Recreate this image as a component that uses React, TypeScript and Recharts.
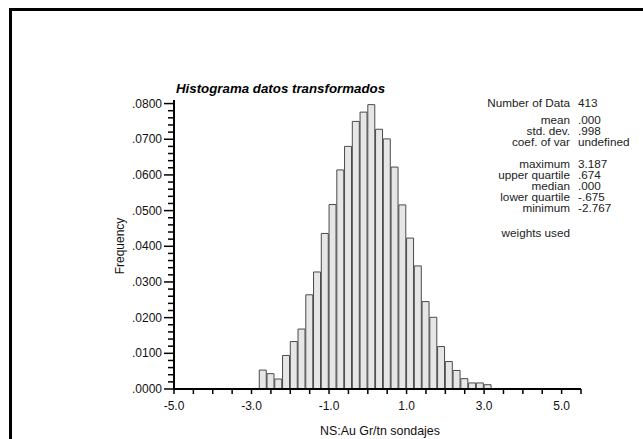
import React from 'react';
import { BarChart, Bar, XAxis, YAxis } from 'recharts';

// lower edge of each 0.2 wide bin
const binStarts = [
  -2.8, -2.6, -2.4, -2.2, -2.0, -1.8, -1.6, -1.4, -1.2, -1.0,
  -0.8, -0.6, -0.4, -0.2, 0.0, 0.2, 0.4, 0.6, 0.8, 1.0,
  1.2, 1.4, 1.6, 1.8, 2.0, 2.2, 2.4, 2.6, 2.8, 3.0,
];
const frequency = [
  0.0053, 0.0043, 0.0028, 0.0094, 0.0133, 0.0168, 0.0264, 0.0328, 0.0436, 0.0517,
  0.0614, 0.068, 0.075, 0.0776, 0.0797, 0.0728, 0.0701, 0.0622, 0.0516, 0.0423,
  0.0345, 0.0245, 0.0201, 0.0119, 0.0077, 0.0052, 0.0029, 0.0017, 0.0017, 0.0012,
];
const BIN_WIDTH = 0.2;

const xTicks = [
  -5.0, -4.5, -4.0, -3.5, -3.0, -2.5, -2.0, -1.5, -1.0, -0.5, 0.0,
  0.5, 1.0, 1.5, 2.0, 2.5, 3.0, 3.5, 4.0, 4.5, 5.0, 5.5,
];
const xLabeled = [-5.0, -3.0, -1.0, 1.0, 3.0, 5.0];
const yMajor = [0, 0.01, 0.02, 0.03, 0.04, 0.05, 0.06, 0.07, 0.08];

const statNames = [
  'Number of Data', 'mean', 'std. dev.', 'coef. of var',
  'maximum', 'upper quartile', 'median', 'lower quartile', 'minimum',
  'weights used',
];
const statValues = [
  '413', '.000', '.998', 'undefined',
  '3.187', '.674', '.000', '-.675', '-2.767',
  '',
];

const data = binStarts.map((s, i) => ({ mid: s + BIN_WIDTH / 2, freq: frequency[i] }));

// minor ticks every .002 between the labelled ones
const yTicks: number[] = [];
yMajor.forEach((v, i) => {
  yTicks.push(v);
  if (i < yMajor.length - 1) for (let k = 1; k < 5; k++) yTicks.push(v + k * 0.002);
});

const W = 643;
const H = 439;
const margin = { top: 100, right: 62, bottom: 20, left: 114 };
const X_DOMAIN: [number, number] = [-5, 5.5];
const plotW = W - margin.left - margin.right;
const barPx = (plotW / (X_DOMAIN[1] - X_DOMAIN[0])) * BIN_WIDTH;

const font = '"Liberation Sans", Arial, sans-serif';

const isMajorY = (v: number) => Math.abs(v * 100 - Math.round(v * 100)) < 1e-6;

const YTick = (props: any) => {
  const { x, y, payload } = props;
  const v = payload.value as number;
  const major = isMajorY(v);
  return (
    <g>
      <line x1={x - (major ? 10 : 6)} x2={x} y1={y} y2={y} stroke="#000" strokeWidth={1.5} />
      {major && (
        <text x={x - 12} y={y} dy={4} textAnchor="end" fontSize={12} fontFamily={font} fill="#111">
          {v.toFixed(4).replace(/^0/, '')}
        </text>
      )}
    </g>
  );
};

const XTick = (props: any) => {
  const { x, y, payload } = props;
  const v = payload.value as number;
  const labeled = xLabeled.some((l) => Math.abs(l - v) < 1e-6);
  return (
    <g>
      <line x1={x} x2={x} y1={y} y2={y + 5} stroke="#000" strokeWidth={1.5} />
      {labeled && (
        <text x={x} y={y + 17} dy={4} textAnchor="middle" fontSize={12} fontFamily={font} fill="#111">
          {v.toFixed(1)}
        </text>
      )}
    </g>
  );
};

// row centres of the statistics block
const statY = [103, 120, 131, 142, 164, 175.5, 186.5, 197.5, 208.5, 233];
const STAT_SIZE = 10.3;
const STAT_STRETCH = 1.14;

export default function App() {
  return (
    <div style={{ position: 'absolute', left: 0, top: 0, width: W, height: H, overflow: 'hidden', background: '#fff' }}>
      <div
        style={{
          position: 'absolute', left: 9, top: 8, width: 700, height: 500,
          border: '3px solid #000', boxSizing: 'border-box',
        }}
      />
      <div style={{ position: 'absolute', left: 0, top: 0 }}>
        <BarChart width={W} height={H} data={data} margin={margin} barCategoryGap={0} barGap={0}>
          <XAxis
            dataKey="mid"
            type="number"
            domain={X_DOMAIN}
            ticks={xTicks}
            interval={0}
            height={30}
            tickSize={0}
            tickMargin={0}
            tickLine={false}
            tick={<XTick />}
            axisLine={{ stroke: '#000', strokeWidth: 2 }}
            allowDataOverflow
          />
          <YAxis
            type="number"
            domain={[0, 0.081]}
            ticks={yTicks}
            interval={0}
            width={60}
            tickSize={0}
            tickMargin={0}
            tickLine={false}
            tick={<YTick />}
            axisLine={{ stroke: '#000', strokeWidth: 2 }}
            allowDataOverflow
          />
          <Bar
            dataKey="freq"
            fill="#e6e6e6"
            stroke="#4a4a4a"
            strokeWidth={1}
            barSize={barPx}
            isAnimationActive={false}
          />
        </BarChart>
      </div>
      <svg width={W} height={H} style={{ position: 'absolute', left: 0, top: 0, pointerEvents: 'none' }}>
        <text x={176} y={93} fontSize={13.3} fontWeight="bold" fontStyle="italic" fontFamily={font} fill="#000">
          Histograma datos transformados
        </text>
        <text
          x={120}
          y={246}
          transform="rotate(-90 120 246)"
          textAnchor="middle"
          dominantBaseline="central"
          fontSize={12}
          fontFamily={font}
          fill="#111"
        >
          Frequency
        </text>
        <text x={380} y={431} textAnchor="middle" dominantBaseline="central" fontSize={12.4} fontFamily={font} fill="#111">
          NS:Au Gr/tn sondajes
        </text>
        {statNames.map((n, i) => (
          <g key={n}>
            <text
              transform={`translate(570 ${statY[i]}) scale(${STAT_STRETCH} 1)`}
              textAnchor="end"
              dominantBaseline="central"
              fontSize={STAT_SIZE}
              fontFamily={font}
              fill="#222"
            >
              {n}
            </text>
            {statValues[i] && (
              <text
                transform={`translate(578 ${statY[i]}) scale(${STAT_STRETCH} 1)`}
                dominantBaseline="central"
                fontSize={STAT_SIZE}
                fontFamily={font}
                fill="#222"
              >
                {statValues[i]}
              </text>
            )}
          </g>
        ))}
      </svg>
    </div>
  );
}
